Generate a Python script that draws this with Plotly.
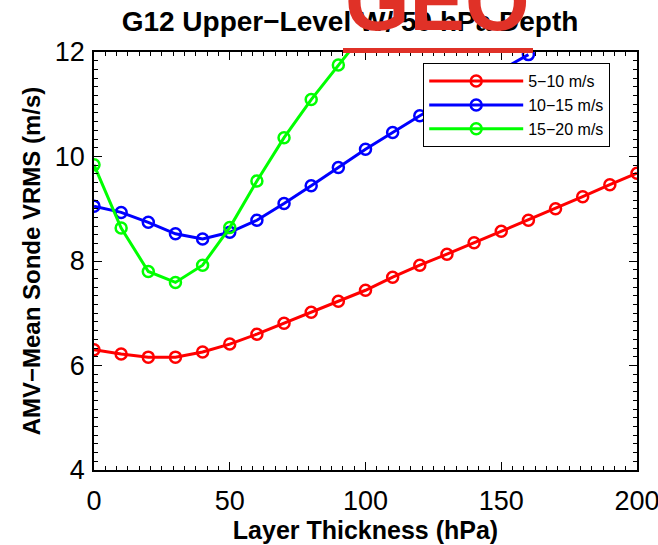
import plotly.graph_objects as go

# ---- data ----
thick_red = [0, 10, 20, 30, 40, 50, 60, 70, 80, 90, 100, 110, 120, 130, 140, 150, 160, 170, 180, 190, 200]
vrms_red = [6.30, 6.22, 6.16, 6.16, 6.26, 6.41, 6.60, 6.81, 7.02, 7.23, 7.44, 7.69, 7.92, 8.13, 8.35, 8.57, 8.78, 9.00, 9.23, 9.46, 9.68]

thick_blue = [0, 10, 20, 30, 40, 50, 60, 70, 80, 90, 100, 110, 120, 130, 140, 150, 160]
vrms_blue = [9.05, 8.93, 8.74, 8.52, 8.42, 8.55, 8.78, 9.10, 9.44, 9.79, 10.14, 10.46, 10.78, 11.07, 11.36, 11.65, 11.95]

thick_green = [0, 10, 20, 30, 40, 50, 60, 70, 80, 90, 100]
vrms_green = [9.84, 8.63, 7.80, 7.59, 7.92, 8.64, 9.53, 10.36, 11.09, 11.75, 12.40]

series_names = ["5−10 m/s", "10−15 m/s", "15−20 m/s"]
series_colors = ["#ff0000", "#0000ff", "#00ff00"]

x_ticks = [0, 50, 100, 150, 200]
y_ticks = [4, 6, 8, 10, 12]

title_text = "G12 Upper−Level W/ 50 hPa Depth"
x_title = "Layer Thickness (hPa)"
y_title = "AMV−Mean Sonde VRMS (m/s)"
watermark = "GEO"

FONT = "Liberation Sans, Arial, Helvetica, sans-serif"

fig = go.Figure()
for xs, ys, name, col in zip([thick_red, thick_blue, thick_green],
                             [vrms_red, vrms_blue, vrms_green],
                             series_names, series_colors):
    fig.add_trace(go.Scatter(
        x=xs, y=ys, name=name, mode="lines+markers",
        line=dict(color=col, width=3),
        marker=dict(symbol="circle-open", size=11, color=col, line=dict(width=2.5, color=col)),
        cliponaxis=True,
    ))

axis_common = dict(
    showgrid=False, zeroline=False, automargin=False,
    showline=True, linecolor="black", linewidth=1.5, mirror="ticks",
    ticks="inside", ticklen=8, tickwidth=1.2, tickcolor="black",
    tickfont=dict(family=FONT, size=27, color="black"),
    ticklabeloverflow="allow",
)

fig.update_layout(
    width=658, height=545,
    margin=dict(l=94, r=21, t=52, b=75, autoexpand=False),
    paper_bgcolor="white", plot_bgcolor="white",
    title=dict(text="<b>" + title_text + "</b>", x=350 / 658, xanchor="center",
               y=1 - 21 / 545, yanchor="middle",
               font=dict(family=FONT, size=28, color="black")),
    xaxis=dict(range=[0, 200], tickvals=x_ticks, ticktext=[str(v) for v in x_ticks],
               minor=dict(dtick=50 / 12, ticks="inside", ticklen=4, tickcolor="black", tickwidth=1),
               title=dict(text="<b>" + x_title + "</b>", standoff=4,
                          font=dict(family=FONT, size=25, color="black")),
               ticklabelstandoff=6,
               **axis_common),
    yaxis=dict(range=[4, 12], tickvals=y_ticks, ticktext=[str(v) for v in y_ticks],
               minor=dict(dtick=2 / 12, ticks="inside", ticklen=4, tickcolor="black", tickwidth=1),
               title=dict(text="<b>" + y_title + "</b>", standoff=7,
                          font=dict(family=FONT, size=24, color="black")),
               ticklabelstandoff=2,
               **axis_common),
    legend=dict(x=(423 - 94) / 543, y=(470 - 63) / 418, xanchor="left", yanchor="top",
                bgcolor="white", bordercolor="black", borderwidth=1.2,
                font=dict(family=FONT, size=16, color="black"),
                tracegroupgap=0, itemwidth=94),
    showlegend=True,
)

# watermark overlay seen in the reference
fig.add_annotation(text="<b>" + watermark + "</b>", xref="paper", yref="paper",
                   x=(437 - 94) / 543, y=1.12, xanchor="center", yanchor="middle",
                   showarrow=False, font=dict(family=FONT, size=83, color="#e03127"))
fig.add_shape(type="rect", xref="paper", yref="paper",
              x0=(343 - 94) / 543, x1=(533 - 94) / 543, y0=(470 - 53) / 418, y1=(470 - 48) / 418,
              fillcolor="#e03127", line=dict(width=0), layer="above")

fig.write_html("out.html", config={"displayModeBar": False},
               post_script="document.body.style.margin='0';")
